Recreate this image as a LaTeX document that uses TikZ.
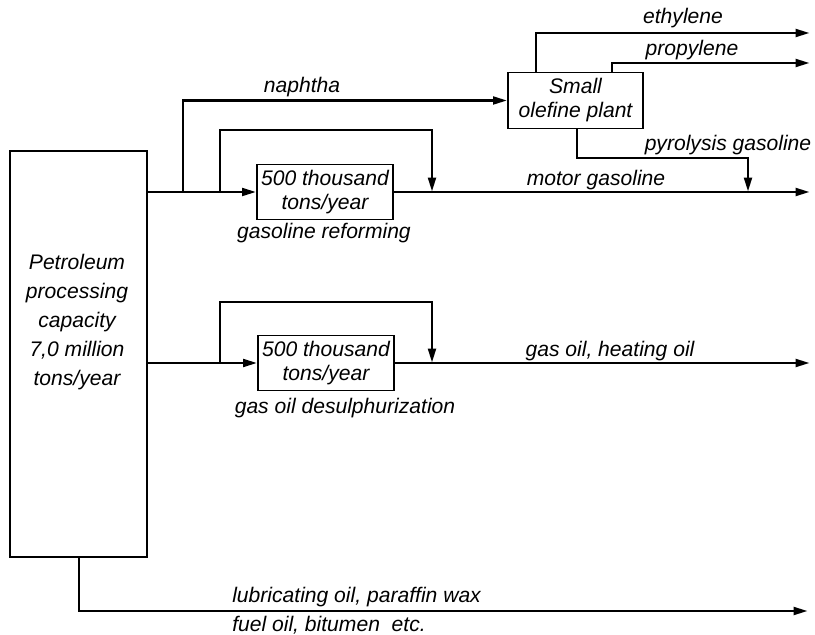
\documentclass[tikz,border=0pt]{standalone}
\usepackage{fontspec}
\setmainfont{Liberation Sans}
\usetikzlibrary{arrows.meta}
\tikzset{
  unit/.style={draw,line width=0.8pt,minimum width=3.4cm,minimum height=1.38cm,inner sep=1pt,align=center},
  flow/.style={line width=2.1pt,-{Triangle[length=3.6mm,width=1.9mm]}},
  lbl/.style={inner sep=0pt}
}
\begin{document}
\begin{tikzpicture}[x=0.025cm,y=-0.025cm,font=\fontsize{15}{17}\selectfont\itshape]
\useasboundingbox (0,0) rectangle (815,635);
\node[draw,line width=0.8pt,minimum width=3.425cm,minimum height=10.15cm] (pp) at (78.5,354) {};
\node[lbl,align=center,font=\fontsize{15}{20.6}\selectfont\itshape] (pptext) at (77,322) {Petroleum\\processing\\capacity\\7,0 million\\tons/year};
\node[unit] (rf) at (325,192) {500 thousand\\tons/year};
\node[unit] (ds) at (326,363) {500 thousand\\tons/year};
\node[unit,minimum width=3.375cm] (ol) at (575.5,100.5) {Small\\olefine plant};
\coordinate (nb) at (183,192);
\coordinate (rb1) at (220,192);
\coordinate (rb2) at (432,192);
\coordinate (db1) at (220,363);
\coordinate (db2) at (432,363);
\coordinate (pg) at (748,192);
\coordinate (mgout) at (810,192);
\coordinate (gout) at (810,363);
\coordinate (ethout) at (810,33);
\coordinate (proout) at (810,63);
\coordinate (lubout) at (808,611);
\draw[flow] (pp.east |- rf) -- (rf);
\draw[flow] (pp.east |- ds) -- (ds);
\draw[flow] (rf) -- (mgout);
\draw[flow] (ds) -- (gout);
\draw[flow] (nb) |- (ol);
\draw[flow] (rb1) |- (432,130) -- (rb2);
\draw[flow] (db1) |- (432,302) -- (db2);
\draw[flow] (ol.north -| 536,0) |- (ethout);
\draw[flow] (ol.north -| 612,0) |- (proout);
\draw[flow] (ol.south -| 577,0) |- (748,158) -- (pg);
\draw[flow] (pp.south -| 79,0) |- (lubout);
\node[lbl] (naph) at (302,87) {naphtha};
\node[lbl] (eth) at (683,18) {ethylene};
\node[lbl] (pro) at (692,50) {propylene};
\node[lbl] (pyro) at (728,145) {pyrolysis gasoline};
\node[lbl] (mg) at (596,180) {motor gasoline};
\node[lbl] (gr) at (324,233) {gasoline reforming};
\node[lbl] (go) at (610,351) {gas oil, heating oil};
\node[lbl] (gd) at (345,408) {gas oil desulphurization};
\node[lbl,anchor=west] (lub) at (232,597) {lubricating oil, paraffin wax};
\node[lbl,anchor=west] (fuel) at (232,625) {fuel oil, bitumen\ \ etc.};
\end{tikzpicture}
\end{document}
